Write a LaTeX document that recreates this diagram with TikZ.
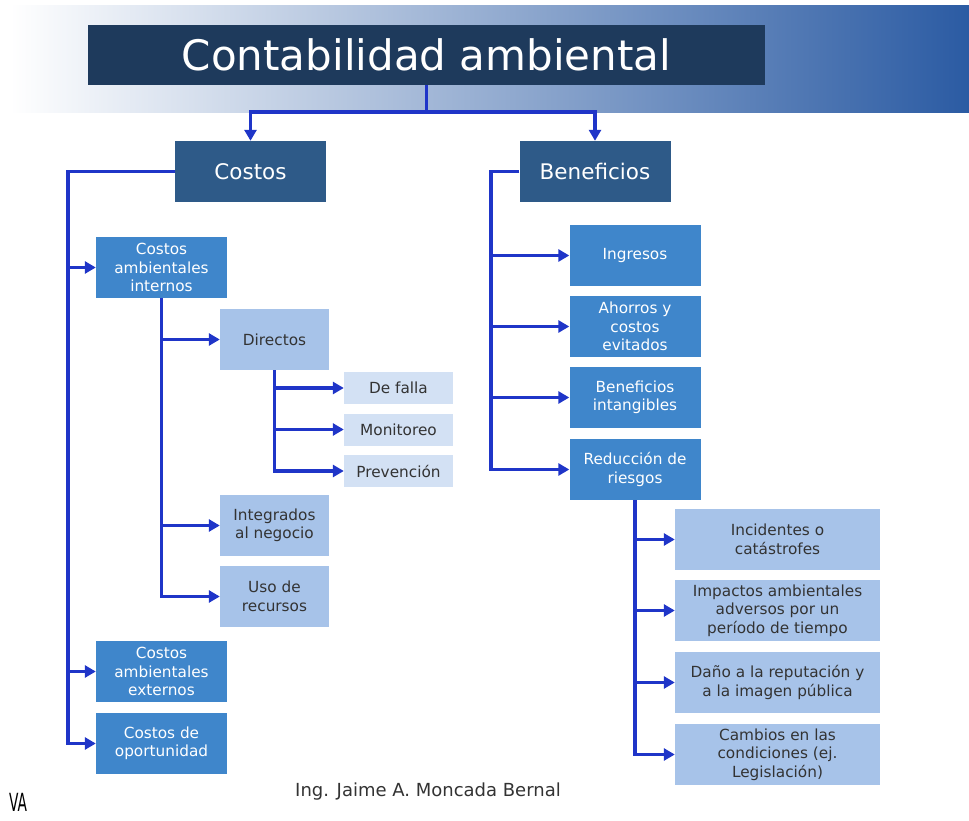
\documentclass[tikz,border=0pt]{standalone}
\usepackage{fontspec}
\setmainfont{DejaVu Sans}
\usepackage{graphicx}
\usetikzlibrary{arrows.meta,positioning}

\definecolor{titleblue}{HTML}{1E3A5C}
\definecolor{darkblue}{HTML}{2E5A88}
\definecolor{midblue}{HTML}{3F86CB}
\definecolor{lightblue}{HTML}{A7C3E9}
\definecolor{paleblue}{HTML}{D3E1F4}
\definecolor{linkblue}{HTML}{1F35C8}
\definecolor{bandblue}{HTML}{2B5BA3}
\definecolor{textgray}{HTML}{333333}

\tikzset{
  box/.style={inner sep=0pt,align=center,minimum height=61pt},
  topbox/.style={box,fill=darkblue,text=white,minimum width=151pt,font=\fontsize{21.5}{25}\selectfont},
  midbox/.style={box,fill=midblue,text=white,minimum width=131pt,font=\fontsize{15.3}{18.5}\selectfont},
  litbox/.style={box,fill=lightblue,text=textgray,minimum width=109pt,font=\fontsize{15.3}{18.5}\selectfont},
  widebox/.style={litbox,minimum width=205pt},
  palebox/.style={box,fill=paleblue,text=textgray,minimum width=109pt,minimum height=32pt,font=\fontsize{15.3}{18.5}\selectfont},
  link/.style={draw=linkblue,line width=3.8pt},
  arr/.style={link,-{Triangle[length=11pt,width=12pt]}}
}

\begin{document}
\begin{tikzpicture}[x=1pt,y=-1pt]
\useasboundingbox (0,0) rectangle (969,821);

% banner
\shade[left color=white,middle color={rgb,255:red,168;green,177;blue,202},right color=bandblue]
  (10,6) rectangle (969,113);
\node[fill=titleblue,text=white,minimum width=677pt,minimum height=60pt,inner sep=0pt,
  font=\fontsize{42}{46}\selectfont] (title) at (426.5,55) {Contabilidad ambiental};

% main branches
\node[topbox] (costos) at (250.5,171.5) {Costos};
\node[topbox] (benef) at (595,171.5) {Beneficios};

% costos
\node[midbox] (cai) at (161.5,267.5) {Costos\\ambientales\\internos};
\node[midbox] (cae) at (161.5,671.5) {Costos\\ambientales\\externos};
\node[midbox] (cdo) at (161.5,743.5) {Costos de\\oportunidad};

\node[litbox] (directos) at (274.5,339.5) {Directos};
\node[litbox] (integrados) at (274.5,525.5) {Integrados\\al negocio};
\node[litbox] (uso) at (274.5,596.5) {Uso de\\recursos};

\node[palebox] (falla) at (398.5,388) {De falla};
\node[palebox] (monit) at (398.5,429.5) {Monitoreo};
\node[palebox] (prev) at (398.5,471) {Prevención};

% beneficios
\node[midbox] (ingresos) at (635,255.5) {Ingresos};
\node[midbox] (ahorros) at (635,326.5) {Ahorros y\\costos\\evitados};
\node[midbox] (intang) at (635,397.5) {Beneficios\\intangibles};
\node[midbox] (reduc) at (635,469.5) {Reducción de\\riesgos};

\node[widebox] (incid) at (777.5,539.5) {Incidentes o\\catástrofes};
\node[widebox] (impac) at (777.5,610.5) {Impactos ambientales\\adversos por un\\período de tiempo};
\node[widebox] (dano) at (777.5,682.5) {Daño a la reputación y\\a la imagen pública};
\node[widebox] (cambios) at (777.5,754.5) {Cambios en las\\condiciones (ej.\\Legislación)};

% connectors
\coordinate (tj) at (426.5,112);
\coordinate (cs) at (68,171.5);
\coordinate (bs) at (491,171.5);

\draw[link] (title.south) -- (tj);
\draw[arr] (tj) -| (costos.north);
\draw[arr] (tj) -| (benef.north);

\draw[arr] (costos.west) -- (cs) |- (cdo.west);
\foreach \n in {cai,cae}
  \draw[arr] (cs |- \n.west) -- (\n.west);

\draw[arr] (cai.south) |- (uso.west);
\foreach \n in {directos,integrados}
  \draw[arr] (cai.south |- \n.west) -- (\n.west);

\draw[arr] (directos.south) |- (prev.west);
\foreach \n in {falla,monit}
  \draw[arr] (directos.south |- \n.west) -- (\n.west);

\draw[arr] (benef.west) -- (bs) |- (reduc.west);
\foreach \n in {ingresos,ahorros,intang}
  \draw[arr] (bs |- \n.west) -- (\n.west);

\draw[arr] (reduc.south) |- (cambios.west);
\foreach \n in {incid,impac,dano}
  \draw[arr] (reduc.south |- \n.west) -- (\n.west);

% footer
\node[text=textgray,font=\fontsize{18}{20}\selectfont] (autor) at (428,792) {Ing. Jaime A. Moncada Bernal};
\node[font=\fontsize{25}{25}\selectfont,inner sep=0pt,anchor=west] (marca) at (9,802) {\scalebox{0.55}[1]{VA}};
\end{tikzpicture}
\end{document}
